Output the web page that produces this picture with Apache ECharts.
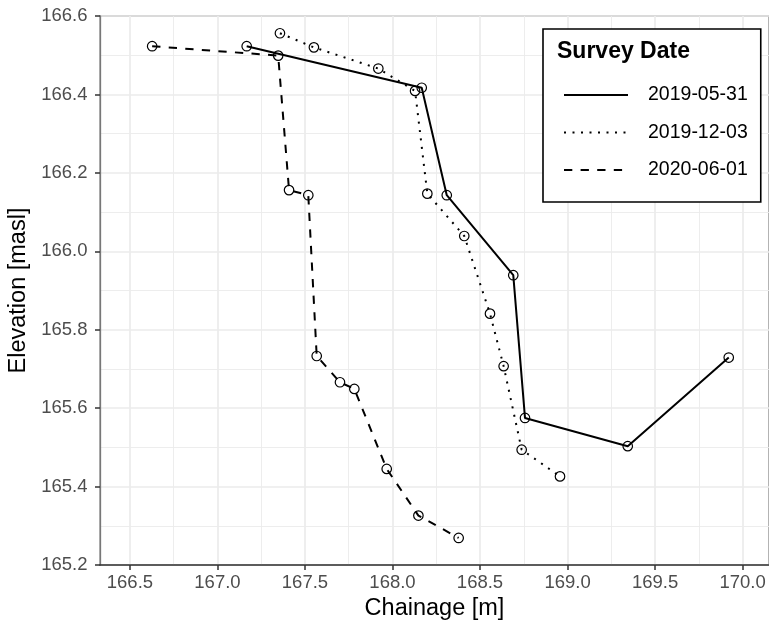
<!DOCTYPE html>
<html>
<head>
<meta charset="utf-8">
<script src="https://cdn.jsdelivr.net/npm/echarts@6/dist/echarts.min.js"></script>
<style>
  html, body { margin: 0; padding: 0; background: #fff; }
  #chart { width: 769px; height: 625px; }
</style>
</head>
<body>
<div id="chart"></div>
<script>
// Cross-section surveys: chainage [m] vs elevation [masl]
const surveyDates = ['2019-05-31', '2019-12-03', '2020-06-01'];

const chainage20190531 = [167.167, 168.167, 168.31, 168.69, 168.757, 169.344, 169.921];
const elevation20190531 = [166.523, 166.417, 166.143, 165.939, 165.575, 165.503, 165.729];

const chainage20191203 = [167.357, 167.551, 167.919, 168.129, 168.199, 168.41, 168.557, 168.635, 168.738, 168.957];
const elevation20191203 = [166.556, 166.520, 166.466, 166.409, 166.147, 166.039, 165.841, 165.707, 165.494, 165.426];

const chainage20200601 = [166.627, 167.347, 167.409, 167.519, 167.567, 167.70, 167.782, 167.967, 168.148, 168.378];
const elevation20200601 = [166.523, 166.499, 166.156, 166.143, 165.733, 165.666, 165.649, 165.445, 165.326, 165.269];

const xTicks = [166.5, 167.0, 167.5, 168.0, 168.5, 169.0, 169.5, 170.0];
const xMinorTicks = [166.75, 167.25, 167.75, 168.25, 168.75, 169.25, 169.75];
const yTicks = [165.2, 165.4, 165.6, 165.8, 166.0, 166.2, 166.4, 166.6];
const yMinorTicks = [165.3, 165.5, 165.7, 165.9, 166.1, 166.3, 166.5];

const FONT = "'Liberation Sans', Arial, sans-serif";

// line dash per survey (solid / dotted / dashed)
const dashes = ['solid', [2, 6.5], [8.3, 8.3]];

const pairs = (xs, ys) => xs.map((x, i) => [x, ys[i]]);
const seriesData = [
  pairs(chainage20190531, elevation20190531),
  pairs(chainage20191203, elevation20191203),
  pairs(chainage20200601, elevation20200601)
];

const X_MIN = 166.329, X_MAX = 170.151;
const Y_MIN = 165.2, Y_MAX = 166.6;

const chart = echarts.init(document.getElementById('chart'), null, { renderer: 'canvas' });

const option = {
  animation: false,
  backgroundColor: '#fff',
  title: {
    text: 'Survey Date',
    left: 557, top: 40, padding: 0, z: 20,
    textStyle: { fontFamily: FONT, fontSize: 23, fontWeight: 'bold', color: '#000' }
  },
  legend: {
    data: surveyDates,
    orient: 'vertical',
    left: 543, top: 29,
    padding: [56, 13, 22, 20],
    itemWidth: 64, itemHeight: 20, itemGap: 17.5,
    backgroundColor: '#fff', borderColor: '#000', borderWidth: 1.6, borderRadius: 0,
    selectedMode: false,
    itemStyle: { opacity: 0 },
    lineStyle: { width: 2 },
    textStyle: { fontFamily: FONT, fontSize: 19.5, color: '#000', lineHeight: 20, padding: [0, 0, 0, 15] },
    z: 10
  },
  grid: {
    left: 100, right: 0, top: 16, bottom: 60,
    containLabel: false, outerBoundsMode: 'none',
    show: true, borderColor: '#8c8c8c', borderWidth: 1.3, backgroundColor: 'transparent'
  },
  xAxis: [
    {
      type: 'value', min: X_MIN, max: X_MAX,
      name: 'Chainage [m]', nameLocation: 'middle', nameGap: 30,
      nameTextStyle: { fontFamily: FONT, fontSize: 23.5, color: '#000' },
      axisLine: { show: true, lineStyle: { color: '#333', width: 1.5 } },
      axisTick: { show: true, length: 5, customValues: xTicks, lineStyle: { color: '#333', width: 1.5 } },
      axisLabel: { customValues: xTicks, margin: 8, fontFamily: FONT, fontSize: 18.5, color: '#4d4d4d',
        formatter: v => v.toFixed(1) },
      splitLine: { show: true, lineStyle: { color: '#ebebeb', width: 1.7 } },
      z: 3
    },
    {
      type: 'value', min: X_MIN, max: X_MAX, gridIndex: 0, position: 'bottom',
      axisLine: { show: false },
      axisTick: { show: false, customValues: xMinorTicks },
      axisLabel: { show: false, customValues: xMinorTicks },
      splitLine: { show: true, lineStyle: { color: '#ebebeb', width: 0.9 } }
    }
  ],
  yAxis: [
    {
      type: 'value', min: Y_MIN, max: Y_MAX,
      name: 'Elevation [masl]', nameLocation: 'middle', nameGap: 66,
      nameTextStyle: { fontFamily: FONT, fontSize: 23.5, color: '#000' },
      axisLine: { show: true, lineStyle: { color: '#777', width: 1.3 } },
      axisTick: { show: true, length: 5, customValues: yTicks, lineStyle: { color: '#333', width: 1.5 } },
      axisLabel: { customValues: yTicks, margin: 12.5, fontFamily: FONT, fontSize: 18.5, color: '#4d4d4d',
        formatter: v => v.toFixed(1) },
      splitLine: { show: true, lineStyle: { color: '#ebebeb', width: 1.7 } },
      z: 3
    },
    {
      type: 'value', min: Y_MIN, max: Y_MAX, gridIndex: 0, position: 'left',
      axisLine: { show: false },
      axisTick: { show: false, customValues: yMinorTicks },
      axisLabel: { show: false, customValues: yMinorTicks },
      splitLine: { show: true, lineStyle: { color: '#ebebeb', width: 0.9 } }
    }
  ],
  series: surveyDates.map((name, i) => ({
    name: name,
    type: 'line',
    xAxisIndex: 0, yAxisIndex: 0,
    data: seriesData[i],
    symbol: 'circle',
    symbolSize: 9.5,
    showSymbol: true,
    itemStyle: { color: 'rgba(255,255,255,0)', borderColor: '#000', borderWidth: 1.2 },
    lineStyle: { color: '#000', width: 2, type: dashes[i], cap: 'butt' },
    emphasis: { disabled: true },
    z: 5
  }))
};

chart.setOption(option);
</script>
</body>
</html>
